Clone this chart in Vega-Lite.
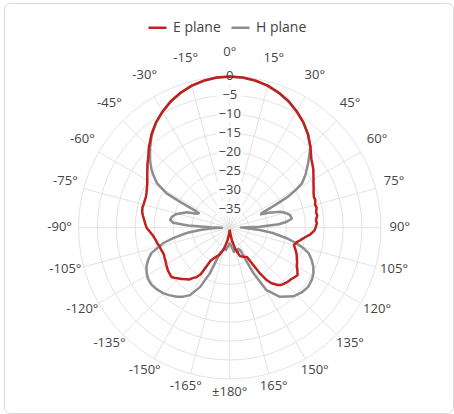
{
  "$schema": "https://vega.github.io/schema/vega-lite/v6.json",
  "width": 454,
  "height": 414,
  "autosize": {"type": "fit", "contains": "padding"},
  "padding": {"left": 4, "top": 3, "right": 1, "bottom": 1},
  "background": "white",
  "config": {
    "view": {"stroke": "#d9d9d9", "cornerRadius": 6, "strokeWidth": 1},
    "font": "Open Sans"
  },
  "datasets": {
    "spokes": [
      {"angle": 0}, {"angle": 15}, {"angle": 30}, {"angle": 45}, {"angle": 60}, {"angle": 75},
      {"angle": 90}, {"angle": 105}, {"angle": 120}, {"angle": 135}, {"angle": 150}, {"angle": 165},
      {"angle": 180}, {"angle": -165}, {"angle": -150}, {"angle": -135}, {"angle": -120}, {"angle": -105},
      {"angle": -90}, {"angle": -75}, {"angle": -60}, {"angle": -45}, {"angle": -30}, {"angle": -15}
    ],
    "angleLabels": [
      {"angle": 0, "label": "0°"}, {"angle": 15, "label": "15°"}, {"angle": 30, "label": "30°"},
      {"angle": 45, "label": "45°"}, {"angle": 60, "label": "60°"}, {"angle": 75, "label": "75°"},
      {"angle": 90, "label": "90°"}, {"angle": 105, "label": "105°"}, {"angle": 120, "label": "120°"},
      {"angle": 135, "label": "135°"}, {"angle": 150, "label": "150°"}, {"angle": 165, "label": "165°"},
      {"angle": 180, "label": "±180°"}, {"angle": -165, "label": "-165°"}, {"angle": -150, "label": "-150°"},
      {"angle": -135, "label": "-135°"}, {"angle": -120, "label": "-120°"}, {"angle": -105, "label": "-105°"},
      {"angle": -90, "label": "-90°"}, {"angle": -75, "label": "-75°"}, {"angle": -60, "label": "-60°"},
      {"angle": -45, "label": "-45°"}, {"angle": -30, "label": "-30°"}, {"angle": -15, "label": "-15°"}
    ],
    "rings": [
      {"level": -35}, {"level": -30}, {"level": -25}, {"level": -20},
      {"level": -15}, {"level": -10}, {"level": -5}, {"level": 0}
    ],
    "pattern": [
      {"plane": "E plane", "angle": -180, "gain": -39.5},
      {"plane": "E plane", "angle": -175, "gain": -38.5},
      {"plane": "E plane", "angle": -170, "gain": -36.5},
      {"plane": "E plane", "angle": -165, "gain": -34.2},
      {"plane": "E plane", "angle": -160, "gain": -32.5},
      {"plane": "E plane", "angle": -155, "gain": -31.5},
      {"plane": "E plane", "angle": -150, "gain": -30},
      {"plane": "E plane", "angle": -148, "gain": -25.5},
      {"plane": "E plane", "angle": -146, "gain": -24.2},
      {"plane": "E plane", "angle": -144, "gain": -23.6},
      {"plane": "E plane", "angle": -142, "gain": -22.6},
      {"plane": "E plane", "angle": -140, "gain": -22.2},
      {"plane": "E plane", "angle": -137, "gain": -21.4},
      {"plane": "E plane", "angle": -135, "gain": -21},
      {"plane": "E plane", "angle": -132, "gain": -20.2},
      {"plane": "E plane", "angle": -130, "gain": -19.8},
      {"plane": "E plane", "angle": -127, "gain": -20.0},
      {"plane": "E plane", "angle": -125, "gain": -20.1},
      {"plane": "E plane", "angle": -122, "gain": -20.4},
      {"plane": "E plane", "angle": -120, "gain": -20.6},
      {"plane": "E plane", "angle": -117, "gain": -20.9},
      {"plane": "E plane", "angle": -115, "gain": -21},
      {"plane": "E plane", "angle": -112, "gain": -21.2},
      {"plane": "E plane", "angle": -110, "gain": -21.1},
      {"plane": "E plane", "angle": -107, "gain": -20.9},
      {"plane": "E plane", "angle": -105, "gain": -20.8},
      {"plane": "E plane", "angle": -102, "gain": -20.4},
      {"plane": "E plane", "angle": -100, "gain": -20.2},
      {"plane": "E plane", "angle": -97, "gain": -19.8},
      {"plane": "E plane", "angle": -95, "gain": -19.4},
      {"plane": "E plane", "angle": -92, "gain": -18.6},
      {"plane": "E plane", "angle": -90, "gain": -18},
      {"plane": "E plane", "angle": -87, "gain": -17.6},
      {"plane": "E plane", "angle": -85, "gain": -17.3},
      {"plane": "E plane", "angle": -82, "gain": -16.8},
      {"plane": "E plane", "angle": -80, "gain": -16.5},
      {"plane": "E plane", "angle": -77, "gain": -16.3},
      {"plane": "E plane", "angle": -75, "gain": -16.4},
      {"plane": "E plane", "angle": -72, "gain": -16.4},
      {"plane": "E plane", "angle": -70, "gain": -16.4},
      {"plane": "E plane", "angle": -67, "gain": -16.1},
      {"plane": "E plane", "angle": -65, "gain": -15.8},
      {"plane": "E plane", "angle": -62, "gain": -15.3},
      {"plane": "E plane", "angle": -60, "gain": -14.8},
      {"plane": "E plane", "angle": -57, "gain": -14.0},
      {"plane": "E plane", "angle": -55, "gain": -13.4},
      {"plane": "E plane", "angle": -52, "gain": -12.4},
      {"plane": "E plane", "angle": -50, "gain": -11.8},
      {"plane": "E plane", "angle": -45, "gain": -9.8},
      {"plane": "E plane", "angle": -40, "gain": -7.8},
      {"plane": "E plane", "angle": -35, "gain": -6.0},
      {"plane": "E plane", "angle": -30, "gain": -4.5},
      {"plane": "E plane", "angle": -25, "gain": -3.1},
      {"plane": "E plane", "angle": -20, "gain": -2.0},
      {"plane": "E plane", "angle": -15, "gain": -1.1},
      {"plane": "E plane", "angle": -10, "gain": -0.5},
      {"plane": "E plane", "angle": -5, "gain": -0.1},
      {"plane": "E plane", "angle": 0, "gain": 0},
      {"plane": "E plane", "angle": 5, "gain": -0.1},
      {"plane": "E plane", "angle": 10, "gain": -0.5},
      {"plane": "E plane", "angle": 15, "gain": -1.1},
      {"plane": "E plane", "angle": 20, "gain": -2.0},
      {"plane": "E plane", "angle": 25, "gain": -3.1},
      {"plane": "E plane", "angle": 30, "gain": -4.5},
      {"plane": "E plane", "angle": 35, "gain": -6.0},
      {"plane": "E plane", "angle": 40, "gain": -7.8},
      {"plane": "E plane", "angle": 45, "gain": -9.8},
      {"plane": "E plane", "angle": 50, "gain": -11.8},
      {"plane": "E plane", "angle": 52, "gain": -12.3},
      {"plane": "E plane", "angle": 55, "gain": -13.0},
      {"plane": "E plane", "angle": 57, "gain": -13.6},
      {"plane": "E plane", "angle": 60, "gain": -14.4},
      {"plane": "E plane", "angle": 62, "gain": -14.9},
      {"plane": "E plane", "angle": 65, "gain": -15.5},
      {"plane": "E plane", "angle": 67, "gain": -15.9},
      {"plane": "E plane", "angle": 70, "gain": -16.3},
      {"plane": "E plane", "angle": 72, "gain": -16.2},
      {"plane": "E plane", "angle": 75, "gain": -16.6},
      {"plane": "E plane", "angle": 77, "gain": -16.4},
      {"plane": "E plane", "angle": 80, "gain": -16.8},
      {"plane": "E plane", "angle": 82, "gain": -16.6},
      {"plane": "E plane", "angle": 85, "gain": -17.1},
      {"plane": "E plane", "angle": 87, "gain": -16.9},
      {"plane": "E plane", "angle": 90, "gain": -17.3},
      {"plane": "E plane", "angle": 92, "gain": -17.6},
      {"plane": "E plane", "angle": 95, "gain": -18.7},
      {"plane": "E plane", "angle": 97, "gain": -19.8},
      {"plane": "E plane", "angle": 100, "gain": -21},
      {"plane": "E plane", "angle": 102, "gain": -21.8},
      {"plane": "E plane", "angle": 105, "gain": -22.4},
      {"plane": "E plane", "angle": 107, "gain": -22.0},
      {"plane": "E plane", "angle": 110, "gain": -21.3},
      {"plane": "E plane", "angle": 112, "gain": -20.9},
      {"plane": "E plane", "angle": 115, "gain": -20.4},
      {"plane": "E plane", "angle": 117, "gain": -20.0},
      {"plane": "E plane", "angle": 120, "gain": -19.5},
      {"plane": "E plane", "angle": 122, "gain": -18.9},
      {"plane": "E plane", "angle": 125, "gain": -18.1},
      {"plane": "E plane", "angle": 128, "gain": -18.5},
      {"plane": "E plane", "angle": 130, "gain": -18.8},
      {"plane": "E plane", "angle": 133, "gain": -19.0},
      {"plane": "E plane", "angle": 135, "gain": -19.3},
      {"plane": "E plane", "angle": 138, "gain": -19.6},
      {"plane": "E plane", "angle": 140, "gain": -20.2},
      {"plane": "E plane", "angle": 143, "gain": -21.6},
      {"plane": "E plane", "angle": 145, "gain": -23.2},
      {"plane": "E plane", "angle": 146.5, "gain": -25.5},
      {"plane": "E plane", "angle": 149.5, "gain": -31},
      {"plane": "E plane", "angle": 155, "gain": -31.5},
      {"plane": "E plane", "angle": 160, "gain": -32},
      {"plane": "E plane", "angle": 165, "gain": -34},
      {"plane": "E plane", "angle": 170, "gain": -36.5},
      {"plane": "E plane", "angle": 175, "gain": -38.5},
      {"plane": "E plane", "angle": 180, "gain": -39.5},

      {"plane": "H plane", "angle": -180, "gain": -36},
      {"plane": "H plane", "angle": -175, "gain": -35},
      {"plane": "H plane", "angle": -170, "gain": -34},
      {"plane": "H plane", "angle": -165, "gain": -34.5},
      {"plane": "H plane", "angle": -162, "gain": -33.5},
      {"plane": "H plane", "angle": -159, "gain": -32.8},
      {"plane": "H plane", "angle": -156.5, "gain": -26.9},
      {"plane": "H plane", "angle": -153.5, "gain": -22.5},
      {"plane": "H plane", "angle": -149.5, "gain": -19.3},
      {"plane": "H plane", "angle": -146, "gain": -18},
      {"plane": "H plane", "angle": -142.5, "gain": -17},
      {"plane": "H plane", "angle": -138, "gain": -16},
      {"plane": "H plane", "angle": -134.5, "gain": -15.3},
      {"plane": "H plane", "angle": -130, "gain": -14.7},
      {"plane": "H plane", "angle": -126, "gain": -14.4},
      {"plane": "H plane", "angle": -122, "gain": -14.5},
      {"plane": "H plane", "angle": -119, "gain": -14.9},
      {"plane": "H plane", "angle": -115, "gain": -15.7},
      {"plane": "H plane", "angle": -111.5, "gain": -16.8},
      {"plane": "H plane", "angle": -108, "gain": -18.2},
      {"plane": "H plane", "angle": -106, "gain": -19.9},
      {"plane": "H plane", "angle": -103, "gain": -22},
      {"plane": "H plane", "angle": -100.5, "gain": -24.8},
      {"plane": "H plane", "angle": -97, "gain": -28.5},
      {"plane": "H plane", "angle": -94.5, "gain": -32.1},
      {"plane": "H plane", "angle": -92, "gain": -35.5},
      {"plane": "H plane", "angle": -90, "gain": -38},
      {"plane": "H plane", "angle": -88.5, "gain": -35},
      {"plane": "H plane", "angle": -87, "gain": -29},
      {"plane": "H plane", "angle": -85, "gain": -25},
      {"plane": "H plane", "angle": -82.5, "gain": -24.1},
      {"plane": "H plane", "angle": -79.5, "gain": -24.4},
      {"plane": "H plane", "angle": -76, "gain": -25.3},
      {"plane": "H plane", "angle": -74, "gain": -26.3},
      {"plane": "H plane", "angle": -70, "gain": -28},
      {"plane": "H plane", "angle": -67, "gain": -30.5},
      {"plane": "H plane", "angle": -65, "gain": -31},
      {"plane": "H plane", "angle": -64, "gain": -30.3},
      {"plane": "H plane", "angle": -62.5, "gain": -25.2},
      {"plane": "H plane", "angle": -61.5, "gain": -21},
      {"plane": "H plane", "angle": -58.5, "gain": -17.4},
      {"plane": "H plane", "angle": -55, "gain": -15.2},
      {"plane": "H plane", "angle": -53.5, "gain": -14.3},
      {"plane": "H plane", "angle": -50, "gain": -12.5},
      {"plane": "H plane", "angle": -45, "gain": -10.2},
      {"plane": "H plane", "angle": -40, "gain": -7.9},
      {"plane": "H plane", "angle": -35, "gain": -6.05},
      {"plane": "H plane", "angle": -30, "gain": -4.55},
      {"plane": "H plane", "angle": -25, "gain": -3.15},
      {"plane": "H plane", "angle": -20, "gain": -2.05},
      {"plane": "H plane", "angle": -15, "gain": -1.15},
      {"plane": "H plane", "angle": -10, "gain": -0.55},
      {"plane": "H plane", "angle": -5, "gain": -0.15},
      {"plane": "H plane", "angle": 0, "gain": -0.05},
      {"plane": "H plane", "angle": 5, "gain": -0.15},
      {"plane": "H plane", "angle": 10, "gain": -0.55},
      {"plane": "H plane", "angle": 15, "gain": -1.15},
      {"plane": "H plane", "angle": 20, "gain": -2.05},
      {"plane": "H plane", "angle": 25, "gain": -3.15},
      {"plane": "H plane", "angle": 30, "gain": -4.55},
      {"plane": "H plane", "angle": 35, "gain": -6.05},
      {"plane": "H plane", "angle": 40, "gain": -7.7},
      {"plane": "H plane", "angle": 45, "gain": -9.8},
      {"plane": "H plane", "angle": 50.5, "gain": -13.1},
      {"plane": "H plane", "angle": 55, "gain": -15.5},
      {"plane": "H plane", "angle": 58.5, "gain": -17.6},
      {"plane": "H plane", "angle": 60, "gain": -19.5},
      {"plane": "H plane", "angle": 62, "gain": -22.5},
      {"plane": "H plane", "angle": 63.5, "gain": -26.6},
      {"plane": "H plane", "angle": 65.5, "gain": -30.7},
      {"plane": "H plane", "angle": 67, "gain": -31},
      {"plane": "H plane", "angle": 69, "gain": -29},
      {"plane": "H plane", "angle": 72.5, "gain": -26},
      {"plane": "H plane", "angle": 75, "gain": -24.8},
      {"plane": "H plane", "angle": 78, "gain": -23.7},
      {"plane": "H plane", "angle": 81.5, "gain": -23.4},
      {"plane": "H plane", "angle": 84, "gain": -24.8},
      {"plane": "H plane", "angle": 86, "gain": -27},
      {"plane": "H plane", "angle": 88, "gain": -32},
      {"plane": "H plane", "angle": 89.5, "gain": -37},
      {"plane": "H plane", "angle": 91, "gain": -36},
      {"plane": "H plane", "angle": 94.5, "gain": -32},
      {"plane": "H plane", "angle": 97, "gain": -28.5},
      {"plane": "H plane", "angle": 100.5, "gain": -24.7},
      {"plane": "H plane", "angle": 103, "gain": -22},
      {"plane": "H plane", "angle": 105.5, "gain": -19.8},
      {"plane": "H plane", "angle": 108, "gain": -18},
      {"plane": "H plane", "angle": 111.5, "gain": -16.7},
      {"plane": "H plane", "angle": 115, "gain": -15.6},
      {"plane": "H plane", "angle": 118.5, "gain": -14.8},
      {"plane": "H plane", "angle": 122, "gain": -14.3},
      {"plane": "H plane", "angle": 127, "gain": -14},
      {"plane": "H plane", "angle": 132, "gain": -14.4},
      {"plane": "H plane", "angle": 137, "gain": -15.2},
      {"plane": "H plane", "angle": 144, "gain": -17.4},
      {"plane": "H plane", "angle": 149.5, "gain": -20.8},
      {"plane": "H plane", "angle": 152.5, "gain": -26.4},
      {"plane": "H plane", "angle": 155, "gain": -33.5},
      {"plane": "H plane", "angle": 158, "gain": -34},
      {"plane": "H plane", "angle": 162, "gain": -33},
      {"plane": "H plane", "angle": 166, "gain": -34.5},
      {"plane": "H plane", "angle": 170, "gain": -33.5},
      {"plane": "H plane", "angle": 175, "gain": -35},
      {"plane": "H plane", "angle": 180, "gain": -36}
    ]
  },
  "layer": [
    {
      "data": {"name": "spokes"},
      "transform": [
        {"calculate": "0", "as": "cx"},
        {"calculate": "40 * sin(datum.angle * PI / 180)", "as": "sx"},
        {"calculate": "40 * cos(datum.angle * PI / 180)", "as": "sy"}
      ],
      "mark": {"type": "rule", "color": "#e3e3e3", "strokeWidth": 1},
      "encoding": {
        "x": {"field": "cx", "type": "quantitative", "scale": {"domain": [-59.71, 59.07], "nice": false, "zero": false}, "axis": null},
        "y": {"field": "cx", "type": "quantitative", "scale": {"domain": [-49.02, 59.44], "nice": false, "zero": false}, "axis": null},
        "x2": {"field": "sx"},
        "y2": {"field": "sy"}
      }
    },
    {
      "data": {"name": "rings"},
      "transform": [
        {"calculate": "datum.level + 40", "as": "r"},
        {"calculate": "0", "as": "cx"}
      ],
      "mark": {"type": "point", "shape": "circle", "filled": false, "stroke": "#e3e3e3", "strokeWidth": 1, "opacity": 1},
      "encoding": {
        "x": {"field": "cx", "type": "quantitative", "scale": {"domain": [-59.71, 59.07], "nice": false, "zero": false}, "axis": null},
        "y": {"field": "cx", "type": "quantitative", "scale": {"domain": [-49.02, 59.44], "nice": false, "zero": false}, "axis": null},
        "size": {"field": "r", "type": "quantitative", "scale": {"type": "pow", "exponent": 2, "domain": [0, 40], "range": [0, 91446]}, "legend": null}
      }
    },
    {
      "data": {"name": "rings"},
      "transform": [
        {"calculate": "datum.level + 40 - 2.1", "as": "b0"},
        {"calculate": "datum.level + 40 + 2.1", "as": "b1"},
        {"calculate": "-3.4", "as": "a0"},
        {"calculate": "3.4", "as": "a1"}
      ],
      "mark": {"type": "rect", "fill": "white", "opacity": 0.85},
      "encoding": {
        "x": {"field": "a0", "type": "quantitative", "scale": {"domain": [-59.71, 59.07], "nice": false, "zero": false}, "axis": null},
        "x2": {"field": "a1"},
        "y": {"field": "b0", "type": "quantitative", "scale": {"domain": [-49.02, 59.44], "nice": false, "zero": false}, "axis": null},
        "y2": {"field": "b1"}
      }
    },
    {
      "data": {"name": "pattern"},
      "transform": [
        {"filter": "datum.plane === 'H plane'"},
        {"calculate": "(datum.gain + 40) * sin(datum.angle * PI / 180)", "as": "px"},
        {"calculate": "(datum.gain + 40) * cos(datum.angle * PI / 180)", "as": "py"}
      ],
      "mark": {"type": "line", "strokeWidth": 2.5, "strokeJoin": "round"},
      "encoding": {
        "x": {"field": "px", "type": "quantitative", "scale": {"domain": [-59.71, 59.07], "nice": false, "zero": false}, "axis": null},
        "y": {"field": "py", "type": "quantitative", "scale": {"domain": [-49.02, 59.44], "nice": false, "zero": false}, "axis": null},
        "order": {"field": "angle", "type": "quantitative"},
        "color": {
          "field": "plane", "type": "nominal",
          "scale": {"domain": ["E plane", "H plane"], "range": ["#c0201e", "#8e8e8e"]},
          "legend": {
            "title": null, "orient": "none", "legendX": 143, "legendY": 14, "direction": "horizontal",
            "symbolType": "stroke", "symbolSize": 324, "symbolStrokeWidth": 2.5,
            "labelFontSize": 14, "labelColor": "#444", "labelFont": "Open Sans",
            "columnPadding": 5, "labelOffset": 5, "padding": 0
          }
        }
      }
    },
    {
      "data": {"name": "pattern"},
      "transform": [
        {"filter": "datum.plane === 'E plane'"},
        {"calculate": "(datum.gain + 40) * sin(datum.angle * PI / 180)", "as": "px"},
        {"calculate": "(datum.gain + 40) * cos(datum.angle * PI / 180)", "as": "py"}
      ],
      "mark": {"type": "line", "strokeWidth": 2.5, "strokeJoin": "round"},
      "encoding": {
        "x": {"field": "px", "type": "quantitative", "scale": {"domain": [-59.71, 59.07], "nice": false, "zero": false}, "axis": null},
        "y": {"field": "py", "type": "quantitative", "scale": {"domain": [-49.02, 59.44], "nice": false, "zero": false}, "axis": null},
        "order": {"field": "angle", "type": "quantitative"},
        "color": {"field": "plane", "type": "nominal"}
      }
    },
    {
      "data": {"name": "angleLabels"},
      "transform": [
        {"calculate": "45 * sin(datum.angle * PI / 180)", "as": "lx"},
        {"calculate": "45 * cos(datum.angle * PI / 180) + 1.3 * abs(cos(datum.angle * PI / 180)) + 0.3", "as": "ly"}
      ],
      "mark": {"type": "text", "fontSize": 13, "color": "#444", "align": "center", "baseline": "middle", "font": "Open Sans"},
      "encoding": {
        "x": {"field": "lx", "type": "quantitative", "scale": {"domain": [-59.71, 59.07], "nice": false, "zero": false}, "axis": null},
        "y": {"field": "ly", "type": "quantitative", "scale": {"domain": [-49.02, 59.44], "nice": false, "zero": false}, "axis": null},
        "text": {"field": "label", "type": "nominal"}
      }
    },
    {
      "data": {"name": "rings"},
      "transform": [
        {"calculate": "datum.level + 40", "as": "r"},
        {"calculate": "0", "as": "cx"}
      ],
      "mark": {"type": "text", "fontSize": 13, "color": "#444", "align": "center", "baseline": "middle", "font": "Open Sans"},
      "encoding": {
        "x": {"field": "cx", "type": "quantitative", "scale": {"domain": [-59.71, 59.07], "nice": false, "zero": false}, "axis": null},
        "y": {"field": "r", "type": "quantitative", "scale": {"domain": [-49.02, 59.44], "nice": false, "zero": false}, "axis": null},
        "text": {"field": "level", "type": "quantitative", "format": "d"}
      }
    }
  ]
}
